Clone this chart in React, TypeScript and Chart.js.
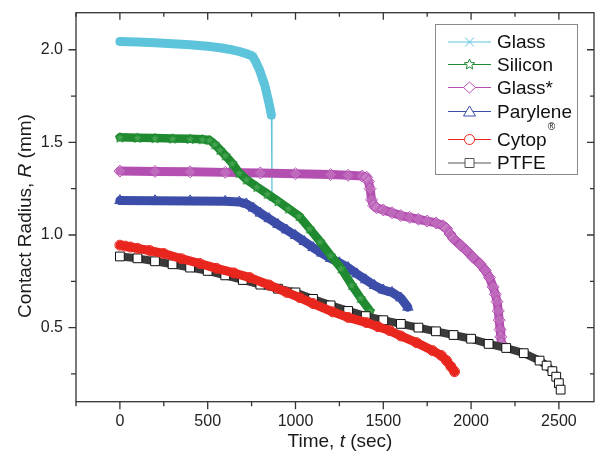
import { useEffect, useRef } from "react";
import { Chart, registerables } from "chart.js";

Chart.register(...registerables);

// ---- data (time in s, contact radius in mm) ----
const GLASS_T = [0, 100, 200, 300, 400, 500, 570, 620, 670, 710, 740, 756, 776, 796, 810, 825, 837, 848, 856, 863, 866];
const GLASS_R = [2.044, 2.042, 2.038, 2.033, 2.027, 2.019, 2.011, 2.003, 1.993, 1.982, 1.972, 1.965, 1.93, 1.889, 1.85, 1.808, 1.76, 1.716, 1.68, 1.646, 1.2];

const SILICON_T = [0, 100, 200, 300, 400, 470, 510, 540, 570, 600, 640, 680, 720, 780, 840, 900, 960, 1020, 1080, 1140, 1200, 1260, 1320, 1370, 1425];
const SILICON_R = [1.527, 1.525, 1.523, 1.521, 1.519, 1.517, 1.513, 1.49, 1.46, 1.43, 1.387, 1.335, 1.3, 1.26, 1.222, 1.183, 1.143, 1.103, 1.035, 0.965, 0.89, 0.82, 0.73, 0.66, 0.59];

const GLASS2_T = [0, 200, 400, 600, 800, 1000, 1200, 1300, 1380, 1405, 1415, 1425, 1433, 1445, 1462, 1500, 1550, 1600, 1650, 1700, 1750, 1800, 1840, 1860, 1880, 1900, 1940, 1975, 2010, 2050, 2080, 2105, 2125, 2138, 2148, 2155, 2160, 2165, 2169, 2173];
const GLASS2_R = [1.345, 1.343, 1.341, 1.338, 1.335, 1.331, 1.326, 1.322, 1.318, 1.312, 1.29, 1.25, 1.19, 1.16, 1.147, 1.135, 1.12, 1.105, 1.095, 1.085, 1.075, 1.065, 1.05, 1.035, 1.005, 0.98, 0.945, 0.915, 0.88, 0.845, 0.81, 0.77, 0.72, 0.68, 0.64, 0.59, 0.54, 0.49, 0.45, 0.415];

const PARYLENE_T = [0, 200, 400, 600, 680, 720, 760, 800, 850, 900, 950, 1000, 1050, 1100, 1150, 1200, 1250, 1300, 1350, 1400, 1450, 1500, 1550, 1600, 1640];
const PARYLENE_R = [1.186, 1.185, 1.184, 1.182, 1.178, 1.168, 1.145, 1.118, 1.088, 1.057, 1.027, 0.997, 0.965, 0.932, 0.902, 0.873, 0.85, 0.824, 0.79, 0.758, 0.727, 0.703, 0.69, 0.66, 0.61];

const CYTOP_T = [0, 30, 60, 100, 170, 250, 350, 455, 550, 650, 740, 850, 950, 1024, 1100, 1212, 1300, 1405, 1470, 1536, 1600, 1689, 1780, 1830, 1860, 1885, 1906];
const CYTOP_R = [0.945, 0.94, 0.935, 0.928, 0.916, 0.9, 0.872, 0.846, 0.82, 0.795, 0.77, 0.73, 0.69, 0.662, 0.63, 0.585, 0.555, 0.527, 0.505, 0.484, 0.455, 0.419, 0.376, 0.35, 0.322, 0.29, 0.262];

const PTFE_T = [0, 100, 200, 300, 400, 500, 600, 700, 800, 900, 1000, 1100, 1200, 1300, 1400, 1500, 1600, 1700, 1800, 1900, 2000, 2100, 2200, 2300, 2390, 2430, 2463, 2485, 2500, 2510];
const PTFE_R = [0.884, 0.874, 0.858, 0.842, 0.824, 0.806, 0.782, 0.757, 0.732, 0.71, 0.69, 0.655, 0.62, 0.59, 0.562, 0.54, 0.52, 0.5, 0.48, 0.46, 0.44, 0.412, 0.39, 0.362, 0.322, 0.295, 0.265, 0.235, 0.2, 0.165];

const SERIES_LABELS = ["Glass", "Silicon", "Glass*", "Parylene", "Cytop®", "PTFE"];

// ---- axes ----
const X_MIN = -250;
const X_MAX = 2700;
const Y_MIN = 0.1;
const Y_MAX = 2.2;
const X_TICKS = [0, 500, 1000, 1500, 2000, 2500];
const X_MINOR = [-250, 250, 750, 1250, 1750, 2250];
const Y_TICKS = [0.5, 1.0, 1.5, 2.0];
const Y_MINOR = [0.25, 0.75, 1.25, 1.75];

const W = 595;
const H = 461;
const FONT = "'Liberation Sans', Arial, Helvetica, sans-serif";
const AXIS_COLOR = "#333";

const COLORS = {
  glass: "#5EC4DC",
  silicon: "#1F8A30",
  glass2: "#B44FB2",
  parylene: "#3B4DA8",
  cytop: "#E8261E",
  ptfe: "#3a3a3a",
};

function starPath(g: CanvasRenderingContext2D, cx: number, cy: number, R: number) {
  const r = R * 0.45;
  g.beginPath();
  for (let i = 0; i < 10; i++) {
    const a = -Math.PI / 2 + (i * Math.PI) / 5;
    const rr = i % 2 === 0 ? R : r;
    g.lineTo(cx + rr * Math.cos(a), cy + rr * Math.sin(a));
  }
  g.closePath();
}

function makeStarImage(color: string, fill: string, size: number) {
  const c = document.createElement("canvas");
  c.width = size;
  c.height = size;
  const g = c.getContext("2d")!;
  starPath(g, size / 2, size / 2 + 0.5, size / 2 - 0.8);
  g.fillStyle = fill;
  g.fill();
  g.strokeStyle = color;
  g.lineWidth = 1;
  g.stroke();
  return c;
}

function drawMarker(g: CanvasRenderingContext2D, kind: string, x: number, y: number, color: string) {
  g.save();
  g.strokeStyle = color;
  g.fillStyle = "#fff";
  g.lineWidth = 1;
  g.beginPath();
  switch (kind) {
    case "cross":
      g.moveTo(x - 4.5, y - 4.5);
      g.lineTo(x + 4.5, y + 4.5);
      g.moveTo(x + 4.5, y - 4.5);
      g.lineTo(x - 4.5, y + 4.5);
      g.stroke();
      break;
    case "star":
      starPath(g, x, y, 5.5);
      g.fill();
      g.stroke();
      break;
    case "diamond":
      g.moveTo(x, y - 5.5);
      g.lineTo(x + 6, y);
      g.lineTo(x, y + 5.5);
      g.lineTo(x - 6, y);
      g.closePath();
      g.fill();
      g.stroke();
      break;
    case "triangle":
      g.moveTo(x, y - 5.5);
      g.lineTo(x + 6, y + 4.5);
      g.lineTo(x - 6, y + 4.5);
      g.closePath();
      g.fill();
      g.stroke();
      break;
    case "circle":
      g.arc(x, y, 5, 0, Math.PI * 2);
      g.fill();
      g.stroke();
      break;
    case "square":
      g.rect(x - 4.5, y - 4.5, 9, 9);
      g.fill();
      g.stroke();
      break;
  }
  g.restore();
}

const LEGEND_MARKERS = ["cross", "star", "diamond", "triangle", "circle", "square"];

// frame with mirrored ticks on all four sides
const framePlugin = {
  id: "frame",
  afterDatasetsDraw(chart: any) {
    const { ctx, chartArea } = chart;
    const { left, right, top, bottom } = chartArea;
    const xs = chart.scales.x;
    const ys = chart.scales.y;
    ctx.save();
    ctx.strokeStyle = AXIS_COLOR;
    ctx.lineWidth = 1.3;
    ctx.strokeRect(left, top, right - left, bottom - top);
    ctx.beginPath();
    const xt = (v: number, major: boolean) => {
      if (v < X_MIN || v > X_MAX) return;
      const px = xs.getPixelForValue(v);
      const out = major ? 7.5 : 4.5;
      const inn = major ? 7 : 4;
      ctx.moveTo(px, bottom);
      ctx.lineTo(px, bottom + out);
      ctx.moveTo(px, top);
      ctx.lineTo(px, top + inn);
    };
    const yt = (v: number, major: boolean) => {
      if (v < Y_MIN || v > Y_MAX) return;
      const py = ys.getPixelForValue(v);
      const out = major ? 7.5 : 5;
      const inn = major ? 7 : 4;
      ctx.moveTo(left - out, py);
      ctx.lineTo(left, py);
      ctx.moveTo(right, py);
      ctx.lineTo(right - inn, py);
    };
    X_TICKS.forEach((v) => xt(v, true));
    X_MINOR.forEach((v) => xt(v, false));
    Y_TICKS.forEach((v) => yt(v, true));
    Y_MINOR.forEach((v) => yt(v, false));
    ctx.stroke();
    ctx.restore();
  },
  afterDraw(chart: any) {
    const { ctx, chartArea } = chart;
    ctx.save();
    ctx.fillStyle = "#1a1a1a";
    ctx.textBaseline = "alphabetic";

    const drawParts = (ps: { t: string; f: string }[], cx: number, base: number) => {
      let total = 0;
      ps.forEach((p) => {
        ctx.font = p.f;
        total += ctx.measureText(p.t).width;
      });
      let x = cx - total / 2;
      ps.forEach((p) => {
        ctx.font = p.f;
        ctx.fillText(p.t, x, base);
        x += ctx.measureText(p.t).width;
      });
    };

    // x-axis title: "Time, t (sec)" with italic t
    drawParts(
      [
        { t: "Time, ", f: `19px ${FONT}` },
        { t: "t", f: `italic 19px ${FONT}` },
        { t: " (sec)", f: `19px ${FONT}` },
      ],
      (chartArea.left + chartArea.right) / 2 + 5,
      447
    );

    // y-axis title: "Contact Radius, R (mm)" with italic R
    ctx.save();
    ctx.translate(31, 216);
    ctx.rotate(-Math.PI / 2);
    drawParts(
      [
        { t: "Contact Radius, ", f: `19px ${FONT}` },
        { t: "R", f: `italic 19px ${FONT}` },
        { t: " (mm)", f: `19px ${FONT}` },
      ],
      0,
      0
    );
    ctx.restore();

    // legend box
    const bx = 435.5, by = 24.5, bw = 142, bh = 150;
    ctx.fillStyle = "#fff";
    ctx.fillRect(bx, by, bw, bh);
    ctx.strokeStyle = "#8a8a8a";
    ctx.lineWidth = 1;
    ctx.strokeRect(bx, by, bw, bh);
    const rowY = [42, 64.5, 87.5, 111.5, 139.5, 163];
    chart.data.datasets.forEach((ds: any, i: number) => {
      const y = rowY[i];
      const color = ds.legendColor;
      ctx.strokeStyle = color;
      ctx.lineWidth = 1;
      ctx.beginPath();
      ctx.moveTo(448, y);
      ctx.lineTo(491, y);
      ctx.stroke();
      drawMarker(ctx, LEGEND_MARKERS[i], 469.5, y, color);
      ctx.fillStyle = "#111";
      ctx.textBaseline = "middle";
      ctx.font = `19px ${FONT}`;
      const label: string = ds.label;
      const [main, rest] = label.split("®");
      ctx.fillText(main, 497, y + 1);
      if (label.includes("®")) {
        const w = ctx.measureText(main).width;
        ctx.font = `10px ${FONT}`;
        ctx.fillText("®", 497 + w + 1, y - 12);
        if (rest) {
          ctx.font = `19px ${FONT}`;
          ctx.fillText(rest, 497 + w + 9, y + 1);
        }
      }
    });
    ctx.restore();
  },
};

function series(label: string, T: number[], R: number[], color: string, style: any, radius: number, order: number, extra: any = {}) {
  return {
    label,
    data: T.map((t, i) => ({ x: t, y: R[i] })),
    borderColor: color,
    backgroundColor: color,
    legendColor: color,
    borderWidth: 9,
    borderJoinStyle: "round",
    borderCapStyle: "round",
    pointStyle: style,
    pointRadius: radius,
    pointBorderColor: color,
    pointBackgroundColor: "rgba(255,255,255,0)",
    pointBorderWidth: 1,
    tension: 0,
    order,
    // long jumps between successive readings are joined with a thin line
    segment: {
      borderWidth: (c: any) => (Math.abs(c.p1.parsed.y - c.p0.parsed.y) > 0.2 ? 1.2 : undefined),
    },
    ...extra,
  };
}

export default function App() {
  const ref = useRef<HTMLCanvasElement | null>(null);

  useEffect(() => {
    if (!ref.current) return;
    const starImg = makeStarImage(COLORS.silicon, "rgba(150,220,150,0.3)", 12);
    const datasets = [
      series(SERIES_LABELS[0], GLASS_T, GLASS_R, COLORS.glass, "crossRot", 5, 6),
      series(SERIES_LABELS[1], SILICON_T, SILICON_R, COLORS.silicon, starImg, 6, 3, { borderWidth: 8.5 }),
      series(SERIES_LABELS[2], GLASS2_T, GLASS2_R, COLORS.glass2, "rectRot", 6, 5, { pointBackgroundColor: "rgba(255,255,255,0.15)" }),
      series(SERIES_LABELS[3], PARYLENE_T, PARYLENE_R, COLORS.parylene, "triangle", 6, 4),
      series(SERIES_LABELS[4], CYTOP_T, CYTOP_R, COLORS.cytop, "circle", 5, 1),
      series(SERIES_LABELS[5], PTFE_T, PTFE_R, COLORS.ptfe, "rect", 6.2, 2, {
        borderWidth: 8,
        pointBorderColor: "#111",
        pointBackgroundColor: "#fff",
        legendColor: "#555",
      }),
    ];

    const chart = new Chart(ref.current, {
      type: "line",
      data: { datasets } as any,
      options: {
        responsive: false,
        animation: false,
        devicePixelRatio: 1,
        layout: { autoPadding: false, padding: { top: 12.7, right: 1, left: 0, bottom: 0 } },
        plugins: { legend: { display: false }, tooltip: { enabled: false } },
        scales: {
          x: {
            type: "linear",
            min: X_MIN,
            max: X_MAX,
            grid: { display: false, drawTicks: false },
            border: { display: false },
            ticks: {
              font: { family: FONT, size: 16 },
              color: "#222",
              padding: 10,
              callback: (v: any) => String(v),
            },
            afterBuildTicks: (s: any) => {
              s.ticks = X_TICKS.map((value) => ({ value }));
            },
            afterFit: (s: any) => {
              s.height = H - 401.7;
              s.paddingLeft = 0;
              s.paddingRight = 0;
            },
          },
          y: {
            type: "linear",
            min: Y_MIN,
            max: Y_MAX,
            grid: { display: false, drawTicks: false },
            border: { display: false },
            ticks: {
              font: { family: FONT, size: 16 },
              color: "#222",
              padding: 13,
              callback: (v: any) => Number(v).toFixed(1),
            },
            afterBuildTicks: (s: any) => {
              s.ticks = Y_TICKS.map((value) => ({ value }));
            },
            afterFit: (s: any) => {
              s.width = 76;
              s.paddingTop = 0;
              s.paddingBottom = 0;
            },
          },
        },
      } as any,
      plugins: [framePlugin],
    });
    return () => chart.destroy();
  }, []);

  return (
    <div style={{ position: "fixed", left: 0, top: 0, width: W, height: H, background: "#fff" }}>
      <canvas ref={ref} width={W} height={H} style={{ display: "block" }} />
    </div>
  );
}
